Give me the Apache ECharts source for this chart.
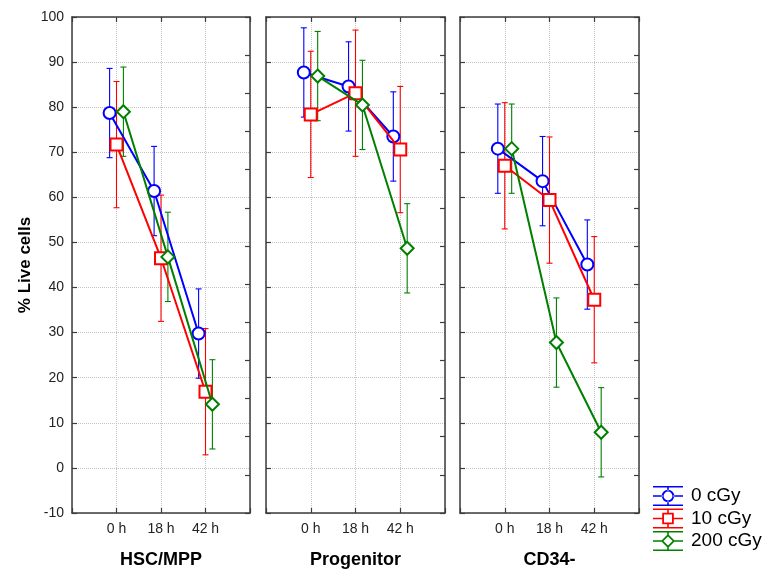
<!DOCTYPE html>
<html>
<head>
<meta charset="utf-8">
<script src="https://cdn.jsdelivr.net/npm/echarts@6/dist/echarts.min.js"></script>
<style>
  html, body { margin: 0; padding: 0; background: #fff; }
  #chart { width: 766px; height: 574px; }
</style>
</head>
<body>
<div id="chart"></div>
<script>
// ---------- data ----------
const categories = ['0 h', '18 h', '42 h'];
const panels = ['HSC/MPP', 'Progenitor', 'CD34-'];
const seriesNames = ['0 cGy', '10 cGy', '200 cGy'];
const yTitle = '% Live cells';
const yMin = -10, yMax = 100, yStep = 10;

// mean % live cells (per panel, per dose, at 0 h / 18 h / 42 h)
const hsc_0cGy   = [78.7, 61.4, 29.8];
const hsc_10cGy  = [71.7, 46.5, 16.9];
const hsc_200cGy = [79.0, 46.8, 14.1];
const prog_0cGy   = [87.7, 84.6, 73.5];
const prog_10cGy  = [78.4, 83.1, 70.6];
const prog_200cGy = [86.9, 80.5, 48.7];
const cd34_0cGy   = [70.8, 63.6, 45.1];
const cd34_10cGy  = [67.0, 59.4, 37.3];
const cd34_200cGy = [70.8, 27.8, 7.9];

// error bar half-widths
const hsc_0cGy_err   = [9.9, 9.9, 9.9];
const hsc_10cGy_err  = [14.0, 14.0, 14.0];
const hsc_200cGy_err = [9.9, 9.9, 9.9];
const prog_0cGy_err   = [9.9, 9.9, 9.9];
const prog_10cGy_err  = [14.0, 14.0, 14.0];
const prog_200cGy_err = [9.9, 9.9, 9.9];
const cd34_0cGy_err   = [9.9, 9.9, 9.9];
const cd34_10cGy_err  = [14.0, 14.0, 14.0];
const cd34_200cGy_err = [9.9, 9.9, 9.9];

const panelValues = [
  [hsc_0cGy, hsc_10cGy, hsc_200cGy],
  [prog_0cGy, prog_10cGy, prog_200cGy],
  [cd34_0cGy, cd34_10cGy, cd34_200cGy]
];
const panelErrors = [
  [hsc_0cGy_err, hsc_10cGy_err, hsc_200cGy_err],
  [prog_0cGy_err, prog_10cGy_err, prog_200cGy_err],
  [cd34_0cGy_err, cd34_10cGy_err, cd34_200cGy_err]
];

// ---------- style ----------
const colors = ['#0000ff', '#ff0000', '#008000'];
const symbols = ['circle', 'rect', 'diamond'];
const symbolSizes = [12, 12, 13];
const dodge = [-0.155, 0, 0.155];
const font = 'Arial, "Liberation Sans", sans-serif';
const borderColor = '#3c3c3c';
const gridLeft = [72, 266, 460];
const gridWidth = [178, 179, 179];

const legendIcons = [
  // circle
  'path://M0,0H30V1.6H0Z M0,18.4H30V20H0Z M0,9.2H9.6V10.8H0Z M20.4,9.2H30V10.8H20.4Z M14.2,1.6H15.8V4.4H14.2Z M14.2,15.6H15.8V18.4H14.2Z M8.8,10A6.2,6.2 0 1,0 21.2,10A6.2,6.2 0 1,0 8.8,10Z M10.6,10A4.4,4.4 0 1,1 19.4,10A4.4,4.4 0 1,1 10.6,10Z',
  // square
  'path://M0,0H30V1.6H0Z M0,18.4H30V20H0Z M0,9.2H9.4V10.8H0Z M20.6,9.2H30V10.8H20.6Z M14.2,1.6H15.8V4.2H14.2Z M14.2,15.8H15.8V18.4H14.2Z M9.2,4.2H20.8V15.8H9.2Z M11,6V14H19V6Z',
  // diamond
  'path://M0,0H30V1.6H0Z M0,18.4H30V20H0Z M0,9.2H8.6V10.8H0Z M21.4,9.2H30V10.8H21.4Z M14.2,1.6H15.8V3.6H14.2Z M14.2,16.4H15.8V18.4H14.2Z M15,3L22,10L15,17L8,10Z M15,5.4L10.4,10L15,14.6L19.6,10Z'
];

// ---------- build option ----------
const grids = [], xAxes = [], yAxes = [], series = [];

panels.forEach((title, p) => {
  grids.push({ left: gridLeft[p], width: gridWidth[p], top: 17, height: 501, containLabel: false });

  // bottom x axis (category labels, panel title)
  xAxes.push({
    type: 'value', gridIndex: p, min: -1, max: 3, interval: 1,
    position: 'bottom',
    name: title, nameLocation: 'middle', nameGap: 38,
    nameTextStyle: { fontFamily: font, fontSize: 18, fontWeight: 'bold', color: '#000' },
    axisLine: { show: true, onZero: false, lineStyle: { color: borderColor, width: 1.5 } },
    axisTick: { show: true, inside: true, length: 5, lineStyle: { color: borderColor, width: 1.2 } },
    axisLabel: {
      margin: 9, fontFamily: font, fontSize: 14, color: '#222',
      formatter: v => (categories[v] !== undefined ? categories[v] : '')
    },
    splitLine: { show: true, lineStyle: { color: '#c4c4c4', type: 'dotted', width: 1 } }
  });
  // top x axis (frame + ticks)
  xAxes.push({
    type: 'value', gridIndex: p, min: -1, max: 3, interval: 1, position: 'top',
    axisLine: { show: true, onZero: false, lineStyle: { color: borderColor, width: 1.5 } },
    axisTick: { show: true, inside: true, length: 5, lineStyle: { color: borderColor, width: 1.2 } },
    axisLabel: { show: false }, splitLine: { show: false }
  });

  // left y axis
  yAxes.push({
    type: 'value', gridIndex: p, min: yMin, max: yMax, interval: yStep, position: 'left',
    name: p === 0 ? yTitle : '', nameLocation: 'middle', nameGap: 38, nameRotate: 90,
    nameTextStyle: { fontFamily: font, fontSize: 17, fontWeight: 'bold', color: '#000' },
    axisLine: { show: true, onZero: false, lineStyle: { color: borderColor, width: 1.5 } },
    axisTick: { show: true, inside: true, length: 5, lineStyle: { color: borderColor, width: 1.2 } },
    axisLabel: { show: p === 0, margin: 8, fontFamily: font, fontSize: 14, color: '#222' },
    splitLine: { show: true, lineStyle: { color: '#c4c4c4', type: 'dotted', width: 1 } }
  });
  // right y axis (frame + 13 minor ticks)
  yAxes.push({
    type: 'value', gridIndex: p, min: 0, max: 13, interval: 1, position: 'right',
    axisLine: { show: true, onZero: false, lineStyle: { color: borderColor, width: 1.5 } },
    axisTick: { show: true, inside: true, length: 5, lineStyle: { color: borderColor, width: 1.2 } },
    axisLabel: { show: false }, splitLine: { show: false }
  });

  seriesNames.forEach((name, s) => {
    const vals = panelValues[p][s];
    const errs = panelErrors[p][s];
    const col = colors[s];
    // error bars
    series.push({
      type: 'custom', name: name + ' error', xAxisIndex: 2 * p, yAxisIndex: 2 * p, z: 2,
      silent: true,
      data: vals.map((v, i) => [i + dodge[s], v - errs[i], v + errs[i]]),
      encode: { x: 0, y: [1, 2] },
      renderItem: (params, api) => {
        const x = api.value(0);
        const top = api.coord([x, api.value(2)]);
        const bot = api.coord([x, api.value(1)]);
        const w = 3;
        const st = { stroke: col, lineWidth: 1.1, fill: null };
        return {
          type: 'group', children: [
            { type: 'line', shape: { x1: top[0], y1: top[1], x2: bot[0], y2: bot[1] }, style: st },
            { type: 'line', shape: { x1: top[0] - w, y1: top[1], x2: top[0] + w, y2: top[1] }, style: st },
            { type: 'line', shape: { x1: bot[0] - w, y1: bot[1], x2: bot[0] + w, y2: bot[1] }, style: st }
          ]
        };
      }
    });
    // means
    series.push({
      type: 'line', name: name, xAxisIndex: 2 * p, yAxisIndex: 2 * p, z: 3 + s,
      data: vals.map((v, i) => [i + dodge[s], v]),
      symbol: symbols[s], symbolSize: symbolSizes[s], showAllSymbol: true,
      lineStyle: { color: col, width: 2 },
      itemStyle: { color: '#fff', borderColor: col, borderWidth: 2 },
      emphasis: { disabled: true },
      animation: false
    });
  });
});

const option = {
  backgroundColor: '#fff',
  animation: false,
  grid: grids,
  xAxis: xAxes,
  yAxis: yAxes,
  legend: {
    orient: 'vertical', left: 648, top: 481,
    itemWidth: 30, itemHeight: 20, itemGap: 2.5,
    selectedMode: false,
    textStyle: { fontFamily: font, fontSize: 19, color: '#000', padding: [0, 0, 0, 3] },
    data: seriesNames.map((n, s) => ({
      name: n, icon: legendIcons[s],
      itemStyle: { color: colors[s], borderWidth: 0 }
    }))
  },
  series: series
};

const chart = echarts.init(document.getElementById('chart'), null, { renderer: 'canvas' });
chart.setOption(option);
</script>
</body>
</html>
